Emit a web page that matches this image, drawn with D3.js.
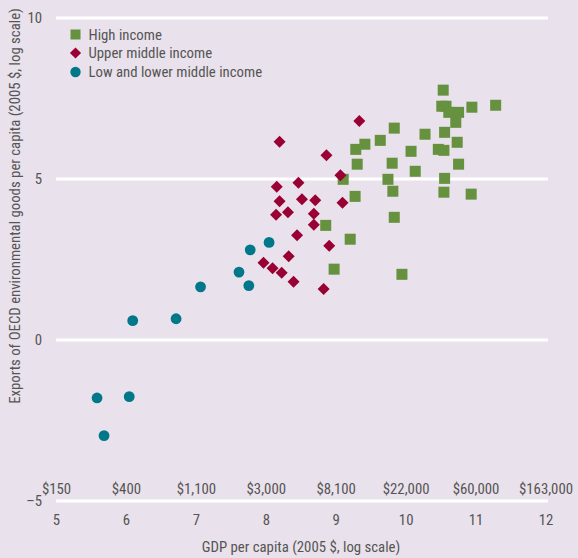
<!DOCTYPE html>
<html>
<head>
<meta charset="utf-8">
<script src="https://cdn.jsdelivr.net/npm/d3@7"></script>
<style>
  html, body { margin: 0; padding: 0; background: #e9e1eb; }
  svg { display: block; }
  text { font-family: "Liberation Sans Narrow", "Roboto Condensed", "DejaVu Sans Condensed", sans-serif; fill: #555555; }
</style>
</head>
<body>
<svg id="chart" width="578" height="558"></svg>
<script>
// ---- Data (x = ln GDP per capita, y = ln exports per capita) ----
const highIncomeX = [10.53, 10.51, 10.57, 10.61, 10.75, 10.71, 10.94, 11.28, 9.83, 10.27, 10.55, 9.63, 9.41, 9.28, 10.73, 10.07, 10.46, 10.54, 9.30, 9.80, 10.13, 10.75, 9.10, 9.74, 10.55, 9.27, 9.81, 10.54, 10.93, 9.83, 8.85, 9.20, 8.97, 9.94];
const highIncomeY = [7.76, 7.26, 7.26, 7.07, 7.07, 6.76, 7.23, 7.29, 6.58, 6.39, 6.45, 6.20, 6.08, 5.92, 6.14, 5.86, 5.92, 5.89, 5.46, 5.49, 5.24, 5.46, 4.99, 4.99, 5.02, 4.46, 4.62, 4.59, 4.53, 3.81, 3.56, 3.13, 2.20, 2.04];

const upperMiddleX = [8.19, 8.86, 9.33, 9.06, 8.15, 8.46, 8.19, 8.51, 8.70, 8.14, 8.31, 8.68, 9.09, 8.68, 8.44, 8.90, 8.32, 7.96, 8.09, 8.22, 8.39, 8.82];
const upperMiddleY = [6.16, 5.74, 6.80, 5.12, 4.76, 4.88, 4.31, 4.37, 4.34, 3.89, 3.97, 3.92, 4.26, 3.58, 3.25, 2.93, 2.60, 2.40, 2.23, 2.09, 1.81, 1.58];

const lowMiddleX = [5.58, 5.68, 6.04, 6.09, 6.71, 7.06, 7.61, 7.75, 7.77, 8.04];
const lowMiddleY = [-1.80, -2.97, -1.76, 0.60, 0.66, 1.65, 2.11, 1.69, 2.80, 3.03];

const seriesNames = ["High income", "Upper middle income", "Low and lower middle income"];
const xTicks = [5, 6, 7, 8, 9, 10, 11, 12];
const dollarLabels = ["$150", "$400", "$1,100", "$3,000", "$8,100", "$22,000", "$60,000", "$163,000"];
const yTicks = [10, 5, 0, -5];

// ---- Styles ----
const colors = { high: "#66913f", upper: "#990033", low: "#00788a" };
const fs = 14.8;

const svg = d3.select("#chart");
const x = d3.scaleLinear().domain([5, 12]).range([56.5, 546]);
const y = d3.scaleLinear().domain([-5, 10]).range([501, 18]);

// gridlines
svg.append("g").selectAll("line").data(yTicks).join("line")
  .attr("x1", 56).attr("x2", 548)
  .attr("y1", d => y(d)).attr("y2", d => y(d))
  .attr("stroke", "#ffffff").attr("stroke-width", 3);

// y tick labels
svg.append("g").selectAll("text").data(yTicks).join("text")
  .attr("x", 42).attr("y", d => y(d) + 5)
  .attr("text-anchor", "end").attr("font-size", fs)
  .text(d => d < 0 ? "\u2013" + Math.abs(d) : d);

// x tick labels (ln values)
svg.append("g").selectAll("text").data(xTicks).join("text")
  .attr("x", d => x(d)).attr("y", 525)
  .attr("text-anchor", "middle").attr("font-size", fs)
  .text(d => d);

// dollar labels
svg.append("g").selectAll("text").data(xTicks).join("text")
  .attr("x", d => x(d)).attr("y", 494)
  .attr("text-anchor", "middle").attr("font-size", fs)
  .text((d, i) => dollarLabels[i]);

// axis titles
svg.append("text")
  .attr("x", 301).attr("y", 552)
  .attr("text-anchor", "middle").attr("font-size", fs)
  .text("GDP per capita (2005 $, log scale)");
svg.append("text")
  .attr("transform", "translate(20,206) rotate(-90)")
  .attr("text-anchor", "middle").attr("font-size", fs)
  .text("Exports of OECD environmental goods per capita (2005 $, log scale)");

// marks
const sq = 11;
svg.append("g").selectAll("rect").data(highIncomeX.map((d, i) => [d, highIncomeY[i]])).join("rect")
  .attr("x", d => x(d[0]) - sq / 2).attr("y", d => y(d[1]) - sq / 2)
  .attr("width", sq).attr("height", sq).attr("fill", colors.high);

const diamond = d3.symbol().type(d3.symbolSquare).size(72);
svg.append("g").selectAll("path").data(upperMiddleX.map((d, i) => [d, upperMiddleY[i]])).join("path")
  .attr("d", diamond)
  .attr("transform", d => `translate(${x(d[0])},${y(d[1])}) rotate(45)`)
  .attr("fill", colors.upper);

svg.append("g").selectAll("circle").data(lowMiddleX.map((d, i) => [d, lowMiddleY[i]])).join("circle")
  .attr("cx", d => x(d[0])).attr("cy", d => y(d[1]))
  .attr("r", 5.4).attr("fill", colors.low);

// legend
const lg = svg.append("g");
const legendY = [34.5, 53, 72];
lg.append("rect").attr("x", 70.5).attr("y", legendY[0] - 5).attr("width", 10).attr("height", 10).attr("fill", colors.high);
lg.append("path").attr("d", d3.symbol().type(d3.symbolSquare).size(62))
  .attr("transform", `translate(75.5,${legendY[1]}) rotate(45)`).attr("fill", colors.upper);
lg.append("circle").attr("cx", 75.5).attr("cy", legendY[2]).attr("r", 5.2).attr("fill", colors.low);
lg.selectAll("text").data(seriesNames).join("text")
  .attr("x", 88.5).attr("y", (d, i) => legendY[i] + 5)
  .attr("font-size", fs)
  .text(d => d);
</script>
</body>
</html>
